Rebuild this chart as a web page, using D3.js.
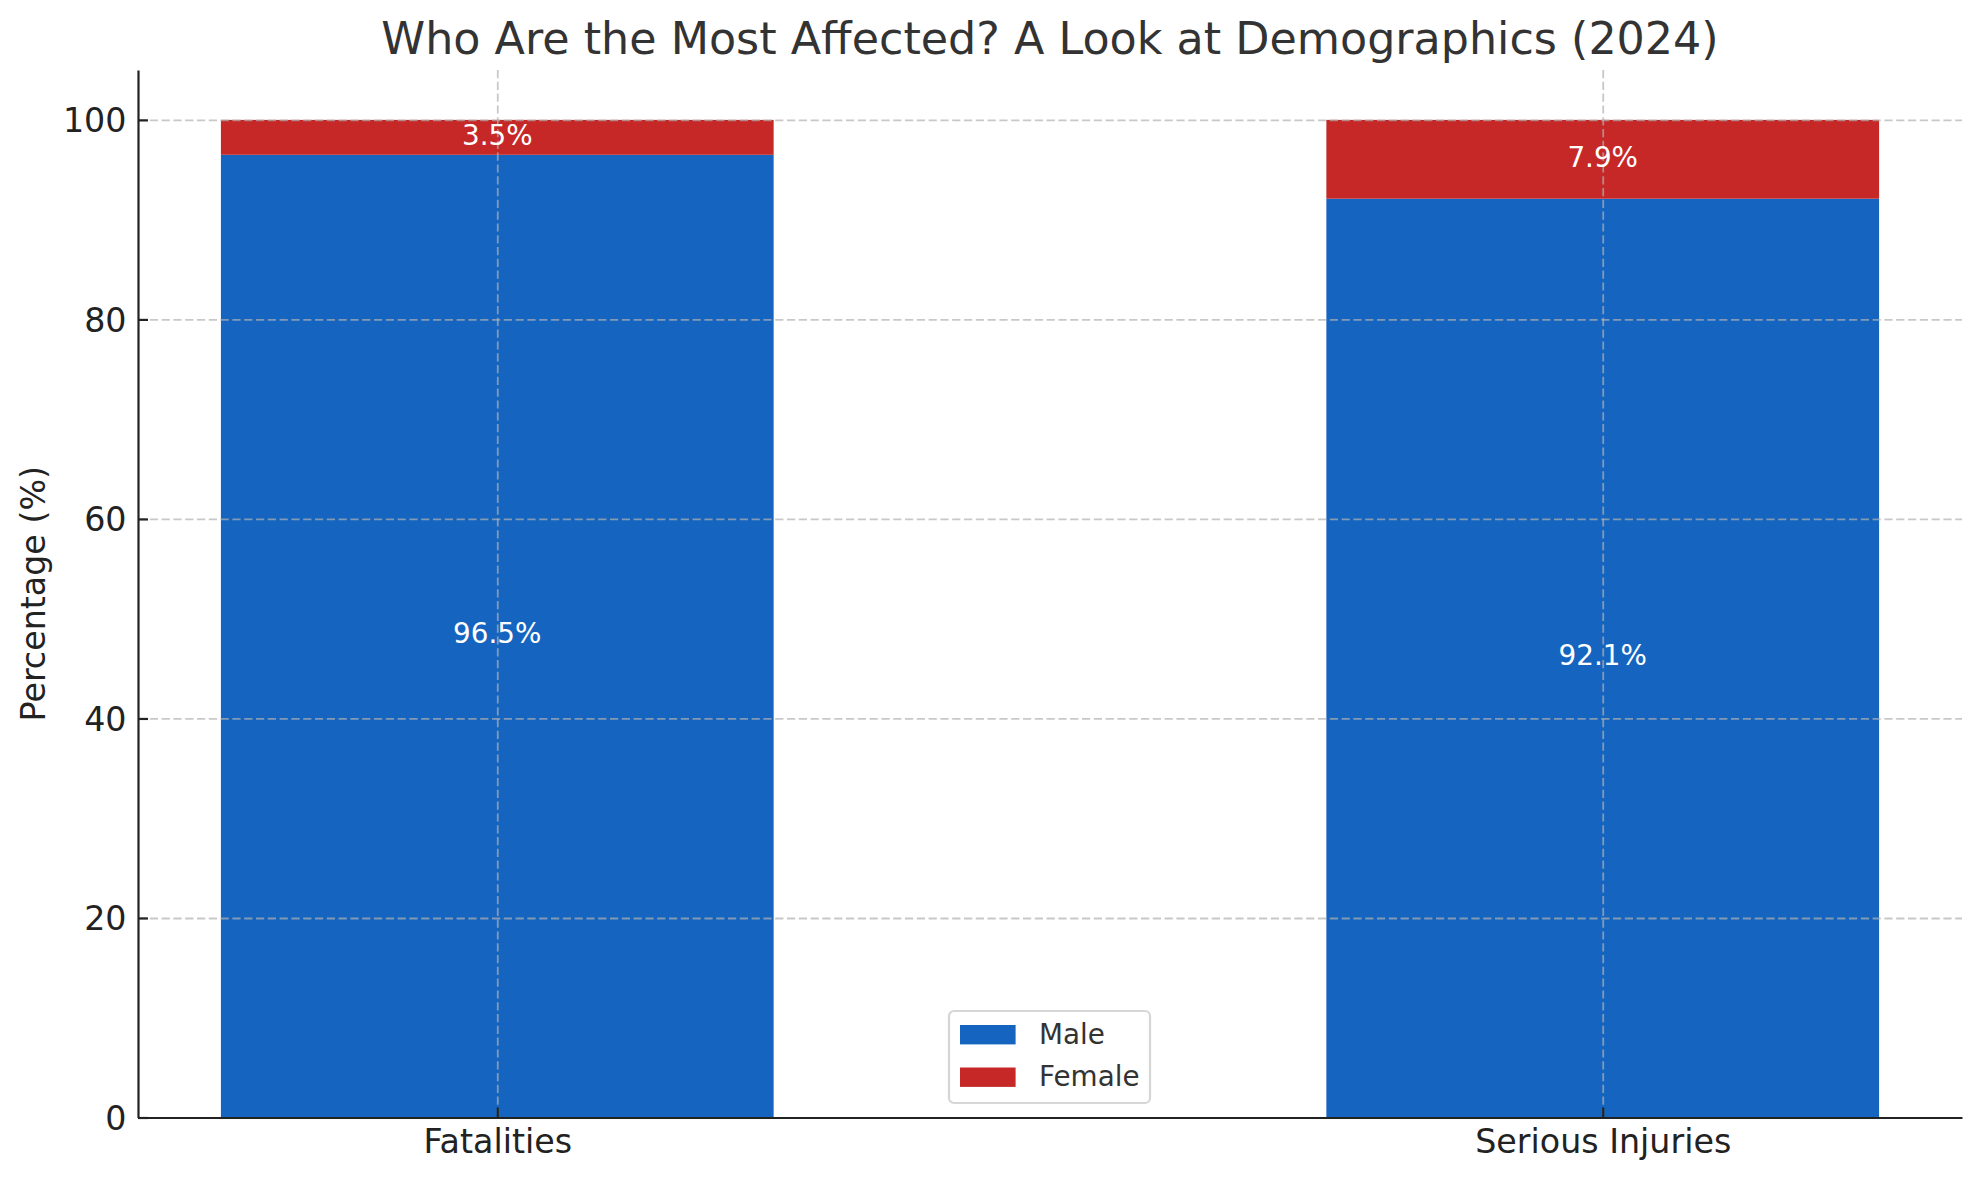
<!DOCTYPE html>
<html>
<head>
<meta charset="utf-8">
<script src="https://cdn.jsdelivr.net/npm/d3@7"></script>
<style>
  body { margin: 0; background: #fff; }
  svg { font-family: "DejaVu Sans", sans-serif; }
</style>
</head>
<body>
<div id="chart"></div>
<script>
// chart data
var categories = ["Fatalities", "Serious Injuries"];
var seriesNames = ["Male", "Female"];
var maleValues = [96.5, 92.1];
var femaleValues = [3.5, 7.9];
var seriesColors = ["#1565C0", "#C62828"];
var yTicks = [0, 20, 40, 60, 80, 100];

var titleText = "Who Are the Most Affected? A Look at Demographics (2024)";
var yLabel = "Percentage (%)";

// build rows for the stack
var rows = categories.map(function(c, i) {
    return { category: c, index: i, Male: maleValues[i], Female: femaleValues[i] };
});
var stacked = d3.stack().keys(seriesNames)(rows);

// plot area
var W = 1980, H = 1180;
var margin = {top: 70, right: 18, bottom: 62.5, left: 138};
var width = W - margin.left - margin.right,
    height = H - margin.top - margin.bottom;

var svg = d3.select("#chart")
    .append("svg")
        .attr("width", W)
        .attr("height", H);

var g = svg.append("g")
    .attr("transform", "translate(" + margin.left + "," + margin.top + ")");

// scales (bars at 0 and 1, width 0.5, 5% margins like matplotlib)
var xScale = d3.scaleLinear()
    .domain([-0.325, 1.325])
    .range([0, width]);

var yScale = d3.scaleLinear()
    .domain([0, 105])
    .range([height, 0]);

var barWidth = 0.5;

// bars
g.selectAll(".series")
    .data(stacked)
    .enter()
    .append("g")
        .attr("fill", function(d, i) { return seriesColors[i]; })
    .selectAll("rect")
    .data(function(d) { return d; })
    .enter()
    .append("rect")
        .attr("x", function(d) { return xScale(d.data.index - barWidth / 2); })
        .attr("width", function(d) { return xScale(barWidth) - xScale(0); })
        .attr("y", function(d) { return yScale(d[1]); })
        .attr("height", function(d) { return yScale(d[0]) - yScale(d[1]); });

// grid lines (drawn above bars)
var grid = g.append("g").attr("class", "grid");
var yGrid = grid.append("g")
    .call(d3.axisLeft(yScale).tickValues(yTicks).tickSize(-width).tickFormat(""));
var xGrid = grid.append("g")
    .call(d3.axisTop(xScale).tickValues([0, 1]).tickSize(-height).tickFormat(""));
grid.selectAll(".domain").remove();
grid.selectAll("line")
    .attr("stroke", "#b0b0b0")
    .attr("stroke-opacity", 0.7)
    .attr("stroke-width", 1.8)
    .attr("stroke-dasharray", "8.2,3.6");

// value labels
stacked.forEach(function(layer) {
    g.append("g")
        .selectAll("text")
        .data(layer)
        .enter()
        .append("text")
            .attr("x", function(d) { return xScale(d.data.index); })
            .attr("y", function(d) { return yScale((d[0] + d[1]) / 2) + 7.3; })
            .attr("text-anchor", "middle")
            .attr("font-size", "27.8px")
            .attr("fill", "white")
            .text(function(d) { return (d[1] - d[0]).toFixed(1) + "%"; });
});

// axes
var yAxis = g.append("g")
    .call(d3.axisLeft(yScale).tickValues(yTicks).tickSizeInner(-10).tickSizeOuter(0).tickPadding(11.5));
var xAxis = g.append("g")
    .attr("transform", "translate(0," + height + ")")
    .call(d3.axisBottom(xScale).tickValues([0, 1])
        .tickFormat(function(d) { return categories[d]; })
        .tickSizeInner(-10).tickSizeOuter(0));

[yAxis, xAxis].forEach(function(a) {
    a.attr("font-family", "DejaVu Sans").attr("font-size", "33.3px");
    a.select(".domain").attr("stroke", "#222").attr("stroke-width", 2.2);
    a.selectAll(".tick line").attr("stroke", "#222").attr("stroke-width", 2.2);
    a.selectAll(".tick text").attr("fill", "#222");
});
yAxis.selectAll(".tick text").attr("dy", "0.355em");
xAxis.selectAll(".tick text").attr("y", 35.8).attr("dy", 0);

// axis label
svg.append("text")
    .attr("transform", "translate(45," + (margin.top + height / 2) + ") rotate(-90)")
    .attr("text-anchor", "middle")
    .attr("font-size", "33.3px")
    .attr("fill", "#222")
    .text(yLabel);

// title
svg.append("text")
    .attr("x", margin.left + width / 2)
    .attr("y", 54)
    .attr("text-anchor", "middle")
    .attr("font-size", "44.4px")
    .attr("fill", "#333")
    .text(titleText);

// legend
var legend = svg.append("g")
    .attr("transform", "translate(949,1011)");
legend.append("rect")
    .attr("width", 201)
    .attr("height", 92)
    .attr("rx", 5)
    .attr("fill", "white")
    .attr("stroke", "#d6d6d6")
    .attr("stroke-width", 2.2);
var items = legend.selectAll(".item")
    .data(seriesNames)
    .enter()
    .append("g")
        .attr("transform", function(d, i) { return "translate(0," + (i * 42.5) + ")"; });
items.append("rect")
    .attr("x", 11)
    .attr("y", 14)
    .attr("width", 55.6)
    .attr("height", 19.4)
    .attr("fill", function(d, i) { return seriesColors[i]; });
items.append("text")
    .attr("x", 90)
    .attr("y", 32.5)
    .attr("font-size", "27.8px")
    .attr("fill", "#333")
    .text(function(d) { return d; });
</script>
</body>
</html>
